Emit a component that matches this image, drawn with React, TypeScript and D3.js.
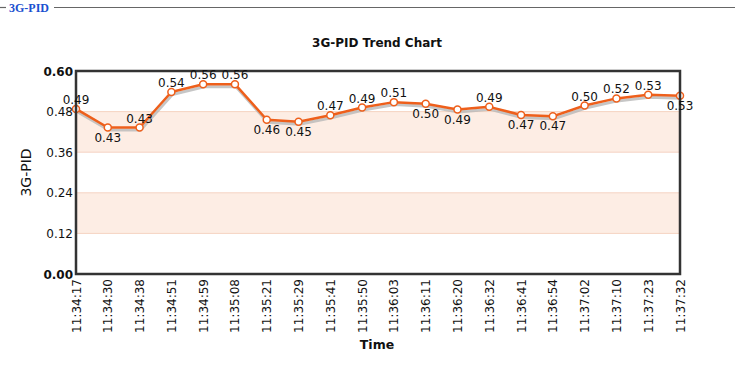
import React from "react";
import * as d3 from "d3";

const times = ["11:34:17","11:34:30","11:34:38","11:34:51","11:34:59","11:35:08","11:35:21","11:35:29","11:35:41","11:35:50","11:36:03","11:36:11","11:36:20","11:36:32","11:36:41","11:36:54","11:37:02","11:37:10","11:37:23","11:37:32"];
const values = [0.488,0.433,0.433,0.538,0.561,0.561,0.456,0.450,0.469,0.492,0.508,0.503,0.486,0.494,0.470,0.466,0.498,0.519,0.530,0.527];
const yTicks = [0, 0.12, 0.24, 0.36, 0.48, 0.6];
const bands = [[0.12, 0.24], [0.36, 0.48]];

const W = 735, H = 365;
const L = 76, R = 680, T = 71, B = 274;
const font = "'DejaVu Sans', Verdana, sans-serif";
const orange = "#ee5f1b";

export default function App() {
  const x = d3.scalePoint<string>().domain(times).range([L, R]);
  const y = d3.scaleLinear().domain([0, 0.6]).range([B, T]);
  const line = d3.line<number>().x((_, i) => x(times[i])!).y(d => y(d));
  const path = line(values) || "";
  return (
    <svg width={W} height={H} style={{ position: "absolute", left: 0, top: 0, background: "#fff" }}>
      {/* fieldset legend */}
      <line x1={0} x2={6} y1={7.5} y2={7.5} stroke="#666" strokeWidth={1.2} />
      <line x1={54} x2={W} y1={7.5} y2={7.5} stroke="#666" strokeWidth={1.2} />
      <text x={9} y={11.5} fontFamily="'Liberation Serif', 'Times New Roman', serif" fontWeight="bold" fontSize={12} fill="#1a50d0">3G-PID</text>

      <text x={377} y={47} textAnchor="middle" fontFamily={font} fontWeight="bold" fontSize={12} fill="#111">3G-PID Trend Chart</text>

      {bands.map((b, i) => (
        <rect key={i} x={L} width={R - L} y={y(b[1])} height={y(b[0]) - y(b[1])} fill="#fdede4" />
      ))}
      {yTicks.slice(1, -1).map((t, i) => (
        <line key={i} x1={L} x2={R} y1={y(t)} y2={y(t)} stroke="#f5d3c2" strokeWidth={1} />
      ))}

      <path d={path} fill="none" stroke="#b8b8b8" strokeWidth={3} transform="translate(1,2.5)" opacity={0.8} />
      <path d={path} fill="none" stroke={orange} strokeWidth={2.5} strokeLinejoin="round" />
      {values.map((v, i) => (
        <circle key={i} cx={x(times[i])!} cy={y(v)} r={3.5} fill="#fff" stroke={orange} strokeWidth={1.5} />
      ))}

      <rect x={L} y={T} width={R - L} height={B - T} fill="none" stroke="#333" strokeWidth={2.5} />

      {yTicks.map((t, i) => (
        <text key={i} x={73} y={y(t) + 4.5} textAnchor="end" fontFamily={font} fontSize={12}
          fontWeight={i === 0 || i === yTicks.length - 1 ? "bold" : "normal"} fill="#111">{t.toFixed(2)}</text>
      ))}

      {values.map((v, i) => {
        const below = i > 0 && v < values[i - 1];
        return (
          <text key={i} x={x(times[i])!} y={below ? y(v) + 14 : y(v) - 5} textAnchor="middle"
            fontFamily={font} fontSize={12} fill="#111">{v.toFixed(2)}</text>
        );
      })}

      {times.map((t, i) => (
        <text key={i} transform={`translate(${x(t)! + 4.5},279) rotate(-90)`} textAnchor="end"
          fontFamily={font} fontSize={12} fill="#111">{t}</text>
      ))}

      <text transform={`translate(31,${(T + B) / 2}) rotate(-90)`} textAnchor="middle" fontFamily={font} fontSize={14} fill="#111">3G-PID</text>
      <text x={377} y={349} textAnchor="middle" fontFamily={font} fontWeight="bold" fontSize={12.5} fill="#111">Time</text>
    </svg>
  );
}
